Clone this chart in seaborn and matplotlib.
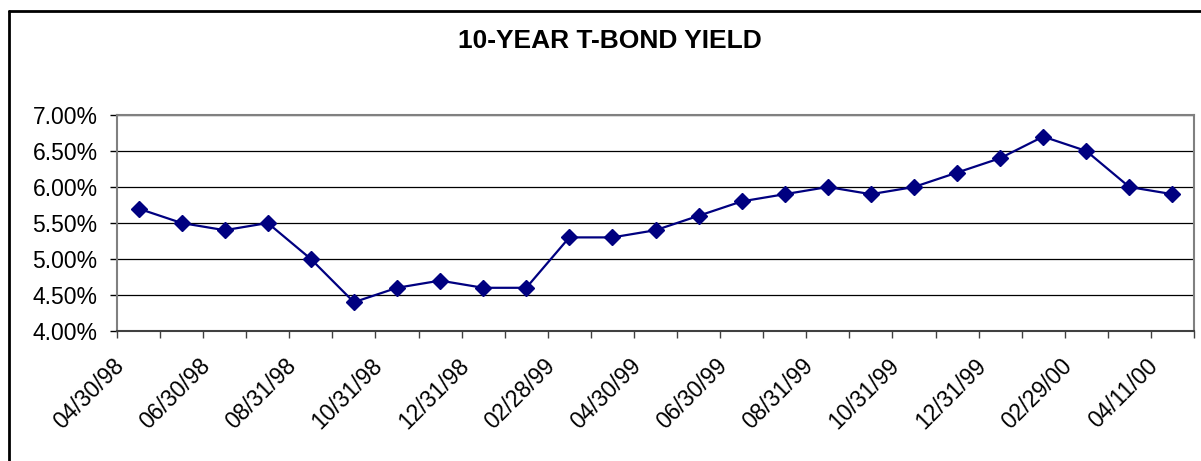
import matplotlib
matplotlib.use("Agg")
import matplotlib.pyplot as plt
import seaborn as sns
import pandas as pd
import numpy as np
from matplotlib.lines import Line2D
from matplotlib.ticker import FuncFormatter
from matplotlib.transforms import ScaledTranslation

# month-end dates
dates = ['04/30/98', '05/31/98', '06/30/98', '07/31/98', '08/31/98', '09/30/98',
         '10/31/98', '11/30/98', '12/31/98', '01/31/99', '02/28/99', '03/31/99',
         '04/30/99', '05/31/99', '06/30/99', '07/31/99', '08/31/99', '09/30/99',
         '10/31/99', '11/30/99', '12/31/99', '01/31/00', '02/29/00', '03/31/00',
         '04/11/00']
# 10-year yield, percent
yields = [5.7, 5.5, 5.4, 5.5, 5.0, 4.4, 4.6, 4.7, 4.6, 4.6, 5.3, 5.3, 5.4,
          5.6, 5.8, 5.9, 6.0, 5.9, 6.0, 6.2, 6.4, 6.7, 6.5, 6.0, 5.9]

df = pd.DataFrame({'Date': dates, 'Yield': yields})
df['pos'] = np.arange(len(df))

sns.set_style('white')
plt.rcParams['font.family'] = ['Liberation Sans', 'DejaVu Sans']
plt.rcParams['text.color'] = 'black'
plt.rcParams['xtick.color'] = 'black'
plt.rcParams['ytick.color'] = 'black'

fig = plt.figure(figsize=(12.01, 4.61), dpi=100)
ax = fig.add_axes([117 / 1201, 1 - 331 / 461, (1194 - 117) / 1201, (331 - 115) / 461])

sns.lineplot(data=df, x='pos', y='Yield', ax=ax, color='#000080', linewidth=1.6,
             marker='D', markersize=8, markeredgecolor='#000080', markeredgewidth=1)

ax.set_xlim(-0.5, len(dates) - 0.5)
ax.set_ylim(4.0, 7.0)
ax.set_yticks(np.arange(4.0, 7.01, 0.5))
ax.yaxis.set_major_formatter(FuncFormatter(lambda v, p: f'{v:.2f}%'))
ax.grid(axis='y', color='black', linewidth=0.9)
ax.set_axisbelow(True)

# ticks between categories, labels on every other category
ax.set_xticks(np.arange(-0.5, len(dates)))
ax.set_xticklabels([])
ax.set_xticks(df['pos'][::2], minor=True)
ax.set_xticklabels(df['Date'][::2], minor=True, rotation=45, ha='right',
                   rotation_mode='anchor', fontsize=16.5)
ax.tick_params(axis='x', which='major', direction='out', length=5, width=1, colors='#404040', bottom=True)
ax.tick_params(axis='x', which='minor', length=0, pad=14)
ax.tick_params(axis='y', direction='out', length=5, width=1, left=True, labelsize=16.5, pad=9)
for lab in ax.get_xticklabels(minor=True):
    lab.set_transform(lab.get_transform() + ScaledTranslation(-0.26, -0.04, fig.dpi_scale_trans))
ax.set_xlabel('')
ax.set_ylabel('')

for s in ['left', 'top', 'right']:
    ax.spines[s].set_color('#808080')
    ax.spines[s].set_linewidth(1.5)
ax.spines['bottom'].set_color('#404040')
ax.spines['bottom'].set_linewidth(1.5)

fig.text(610 / 1201, 1 - 41 / 461, '10-YEAR T-BOND YIELD', ha='center', va='center',
         fontsize=19, fontweight='bold')

# outer chart border
fig.add_artist(Line2D([9 / 1201, 9 / 1201], [0, 1 - 11 / 461], color='black', linewidth=2,
                      transform=fig.transFigure))
fig.add_artist(Line2D([9 / 1201, 1], [1 - 11 / 461, 1 - 11 / 461], color='black', linewidth=2,
                      transform=fig.transFigure))

fig.savefig('out.png', dpi=100)
